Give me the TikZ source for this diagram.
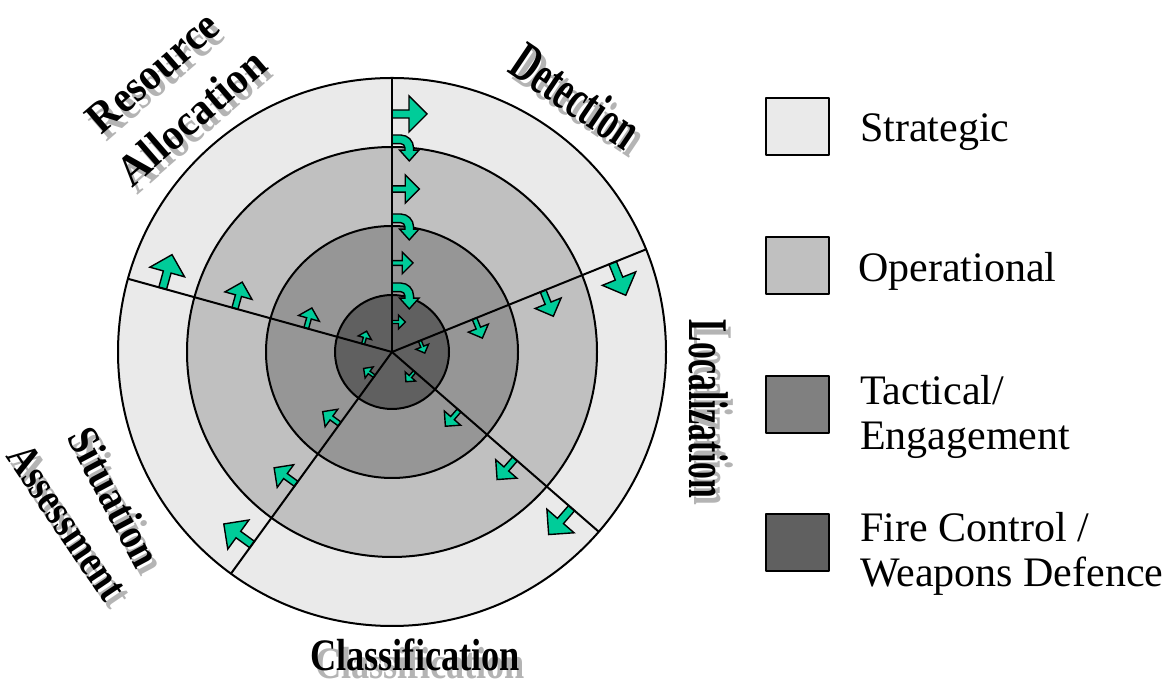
\documentclass[tikz,border=0pt]{standalone}
\usepackage{fontspec}
\usepackage{graphicx}
\setmainfont{Liberation Serif}
\usetikzlibrary{calc}

\definecolor{strat}{HTML}{EAEAEA}
\definecolor{oper}{HTML}{C0C0C0}
\definecolor{tact}{HTML}{969696}
\definecolor{tactkey}{HTML}{808080}
\definecolor{fire}{HTML}{606060}
\definecolor{flow}{HTML}{00CC99}
\definecolor{shade}{HTML}{B4B4B4}

% label text squeezed to a given width at a given size
\newcommand{\fitlabel}[3]{\fontsize{#1}{#1}\selectfont\resizebox{#2}{\height}{#3}}

\tikzset{
  ring/.style={draw=black, line width=2pt},
  divider/.style={draw=black, line width=2pt},
  flowpath/.style={fill=flow, draw=black, line width=1.4pt, line join=miter},
  blockarrow/.pic={\path[flowpath] (0,-4) -- (17,-4) -- (17,-18) -- (35,0)
      -- (17,18) -- (17,4) -- (0,4) -- cycle;},
  bendarrow/.pic={\path[flowpath] (0,0) -- (8,0) arc[start angle=90,end angle=0,radius=12]
      -- (20,-14) -- (25,-14) -- (16,-24) -- (7,-14) -- (12,-14) -- (12,-12)
      arc[start angle=0,end angle=90,radius=4] -- (0,-8) -- cycle;},
  sector/.style={font=\bfseries, inner sep=0pt, text=black},
  sectorshadow/.style={sector, text=shade},
  keybox/.style={draw=black, line width=2pt, minimum width=63pt, minimum height=57pt, inner sep=0pt},
  keytext/.style={font=\fontsize{42}{45}\selectfont, inner sep=0pt, align=left},
}

\begin{document}
\begin{tikzpicture}[x=1pt, y=1pt, line join=round]
\useasboundingbox (0,0) rectangle (1176,698);
\coordinate (O) at (392,346);

% nested rings
\draw[ring, fill=strat] (O) circle (274);
\draw[ring, fill=oper]  (O) circle (205);
\draw[ring, fill=tact]  (O) circle (126);
\draw[ring, fill=fire]  (O) circle (57);

% flow arrows across each sector boundary (clockwise)
\foreach \a in {90,22,-41,-126,164.5}{
  \foreach \r/\s in {238/1, 163/0.78, 89/0.6, 30/0.38}{
    \pic[rotate=\a-90, scale=\s] at ($(O)+(\a:\r)$) {blockarrow};
  }
}
% inward hand-over arrows on the detection line
\foreach \h in {217,138,69}{
  \pic[scale=1.08] at ($(O)+(0,\h)$) {bendarrow};
}

% sector dividers
\foreach \a/\n in {90/dA,22/dB,-41/dC,-126/dD,164.5/dE}{
  \coordinate (\n) at ($(O)+(\a:274)$);
  \draw[divider] (O) -- (\n);
}

% sector titles with drop shadow
\node[sectorshadow, rotate=-34] (det-s) at (581,595) {\fitlabel{56}{143pt}{Detection}};
\node[sector, rotate=-34] (det) at (576,602) {\fitlabel{56}{143pt}{Detection}};

\node[sectorshadow, rotate=-90] (loc-s) at (714,282) {\fitlabel{56}{178pt}{Localization}};
\node[sector, rotate=-90] (loc) at (709,289) {\fitlabel{56}{178pt}{Localization}};

\node[sectorshadow] (cls-s) at (420,35) {\fitlabel{45}{210pt}{Classification}};
\node[sector] (cls) at (415,43) {\fitlabel{45}{210pt}{Classification}};

\node[sectorshadow, rotate=-62] (sit-s) at (120,194) {\fitlabel{44}{150pt}{Situation}};
\node[sector, rotate=-62] (sit) at (115,201) {\fitlabel{44}{150pt}{Situation}};
\node[sectorshadow, rotate=-56] (ass-s) at (72,169) {\fitlabel{44}{178pt}{Assessment}};
\node[sector, rotate=-56] (ass) at (67,176) {\fitlabel{44}{178pt}{Assessment}};

\node[sectorshadow, rotate=41] (res-s) at (158,619) {\fitlabel{44}{160pt}{Resource}};
\node[sector, rotate=41] (res) at (153,626) {\fitlabel{44}{160pt}{Resource}};
\node[sectorshadow, rotate=41] (all-s) at (196,574) {\fitlabel{44}{182pt}{Allocation}};
\node[sector, rotate=41] (all) at (191,581) {\fitlabel{44}{182pt}{Allocation}};

% legend
\node[keybox, fill=strat]   (kS) at (797.5,571.5) {};
\node[keybox, fill=oper]    (kO) at (797.5,432.5) {};
\node[keybox, fill=tactkey] (kT) at (797.5,293.5) {};
\node[keybox, fill=fire]    (kF) at (797.5,155) {};

\node[keytext, anchor=base west] (tS) at (860,556) {Strategic};
\node[keytext, anchor=base west] (tO) at (858,416) {Operational};
\node[keytext, anchor=base west] (tT) at (860,248) {Tactical/\\Engagement};
\node[keytext, anchor=base west] (tF) at (860,111) {Fire Control /\\Weapons Defence};
\end{tikzpicture}
\end{document}
